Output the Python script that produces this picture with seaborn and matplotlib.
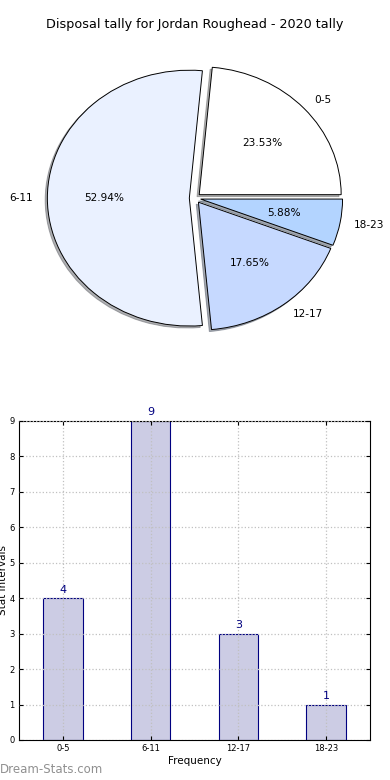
import matplotlib
matplotlib.use("Agg")
import matplotlib.pyplot as plt
import seaborn as sns
import pandas as pd

categories = ["0-5", "6-11", "12-17", "18-23"]
counts = [4, 9, 3, 1]
pie_colors = ["#ffffff", "#eaf1ff", "#c6d9ff", "#b3d4ff"]
title = "Disposal tally for Jordan Roughead - 2020 tally"

plt.rcParams["font.family"] = ["DejaVu Sans"]
fig = plt.figure(figsize=(3.9, 7.8), dpi=100)

# Pie
ax1 = fig.add_axes([0.045, 0.541, 0.91, 0.41])
wedges, texts, autotexts = ax1.pie(
    counts, labels=categories, colors=pie_colors, explode=[0.04] * 4,
    autopct="%1.2f%%", shadow=dict(ox=-0.011, oy=-0.011, shade=0.6),
    startangle=0,
    wedgeprops=dict(edgecolor="black", linewidth=0.7),
    textprops=dict(fontsize=7.6))
ax1.set_aspect("auto")
ax1.set_xlim(-1.25, 1.25)
ax1.set_ylim(-1.25, 1.25)
ax1.set_title(title, fontsize=9.2, pad=7)

# Bars
df = pd.DataFrame({"cat": categories, "val": counts})
ax2 = fig.add_axes([0.0487, 0.0513, 0.9, 0.409])
sns.barplot(data=df, x="cat", y="val", ax=ax2, color="#cccce4",
            edgecolor="#000080", linewidth=0.8, width=0.45, saturation=1)
ax2.set_xlim(-0.5, 3.5)
ax2.set_ylim(0, 9)
ax2.set_yticks(range(0, 10))
ax2.tick_params(direction="in", labelsize=6, length=3, top=True, right=True, pad=3)
ax2.grid(True, linestyle=":", color="#c0c0c0", linewidth=0.9)
ax2.set_axisbelow(False)
for i, v in enumerate(counts):
    ax2.text(i, v + 0.1, str(v), ha="center", va="bottom", color="#000080", fontsize=8)
ax2.set_xlabel("Frequency", fontsize=7.5, labelpad=2)
ax2.set_ylabel("Stat Intervals", fontsize=7.5, labelpad=1)
for s in ax2.spines.values():
    s.set_visible(True)
    s.set_color("black")

fig.text(0.0, 0.005, "Dream-Stats.com", color="#909090", fontsize=8.5, ha="left", va="bottom")

fig.savefig("out.png", dpi=100)
